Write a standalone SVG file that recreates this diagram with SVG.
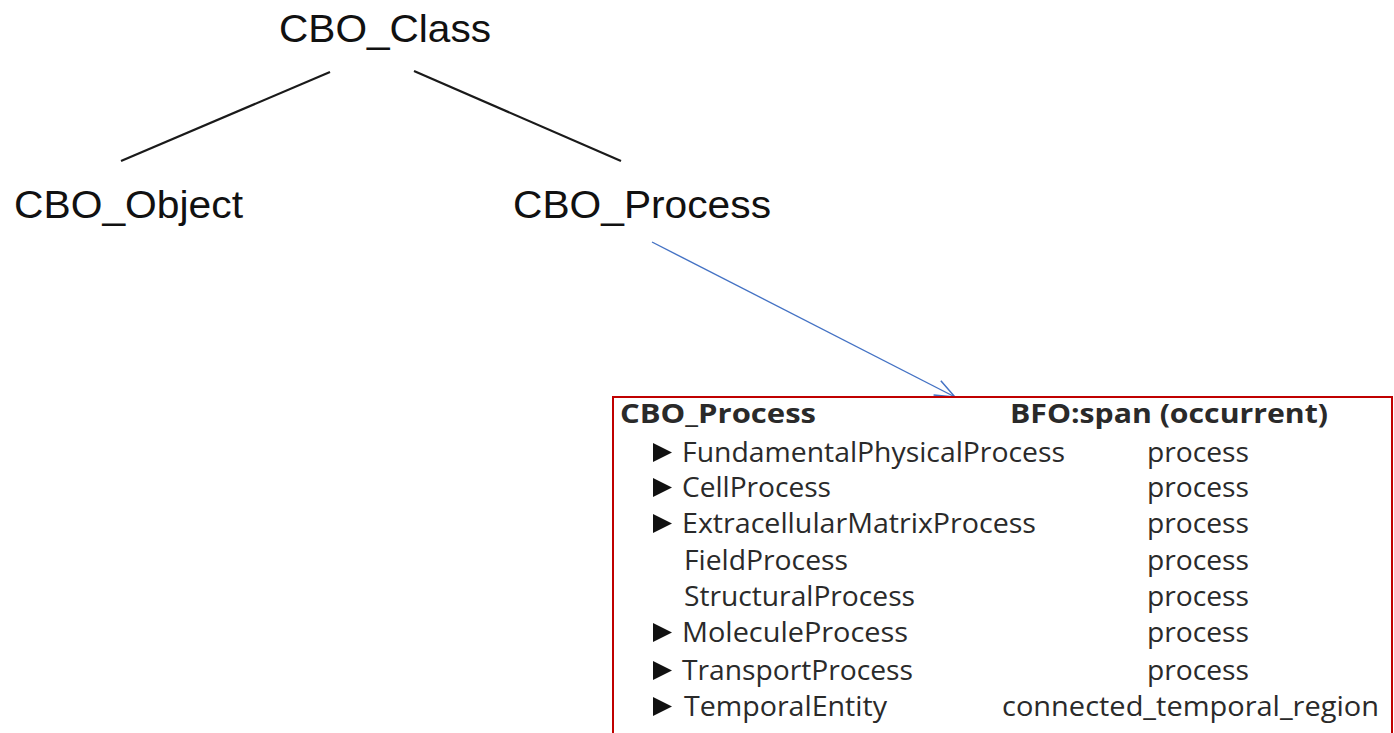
<svg xmlns="http://www.w3.org/2000/svg" width="1394" height="733" viewBox="0 0 1394 733">
  <style>
    .node { font-family: "Liberation Sans", Arial, sans-serif; font-size: 39px; fill: #111; }
    .tbl { font-family: "Open Sans", "Noto Sans", sans-serif; font-size: 27px; fill: #2a2a2a; }
    .hdr { font-weight: bold; }
    .edge { stroke: #1a1a1a; stroke-width: 2.2; fill: none; }
    .link { stroke: #4472c4; stroke-width: 1.4; fill: none; }
    .tri { fill: #111; }
  </style>
  <defs>
    <marker id="openArrow" markerWidth="24" markerHeight="20" refX="22" refY="10" orient="auto" markerUnits="userSpaceOnUse">
      <path d="M2,2 L22,10 L2,18" fill="none" stroke="#4472c4" stroke-width="1.5"/>
    </marker>
  </defs>
  <rect width="1394" height="733" fill="#ffffff"/>

  <g id="connectors">
    <line class="edge" x1="330" y1="72" x2="121" y2="161"/>
    <line class="edge" x1="414" y1="71" x2="621" y2="161"/>
    <line class="link" x1="652" y1="242" x2="955" y2="397" marker-end="url(#openArrow)"/>
  </g>

  <g id="cbo-class">
    <text class="node" x="279" y="42" textLength="212" lengthAdjust="spacingAndGlyphs">CBO_Class</text>
  </g>
  <g id="cbo-object">
    <text class="node" x="14" y="218" textLength="229" lengthAdjust="spacingAndGlyphs">CBO_Object</text>
  </g>
  <g id="cbo-process">
    <text class="node" x="513" y="218" textLength="258" lengthAdjust="spacingAndGlyphs">CBO_Process</text>
  </g>

  <g id="process-table">
    <rect x="613" y="397" width="779" height="345" fill="#ffffff" stroke="#c00000" stroke-width="2"/>
    <text class="tbl hdr" x="620" y="423" textLength="196" lengthAdjust="spacingAndGlyphs">CBO_Process</text>
    <text class="tbl hdr" x="1010" y="423" textLength="318" lengthAdjust="spacingAndGlyphs">BFO:span (occurrent)</text>

    <polygon class="tri" points="653,443 672,452.5 653,462"/>
    <text class="tbl" x="682" y="462" textLength="383" lengthAdjust="spacingAndGlyphs">FundamentalPhysicalProcess</text>
    <text class="tbl" x="1147" y="462" textLength="102" lengthAdjust="spacingAndGlyphs">process</text>

    <polygon class="tri" points="653,478 672,487.5 653,497"/>
    <text class="tbl" x="682" y="497" textLength="149" lengthAdjust="spacingAndGlyphs">CellProcess</text>
    <text class="tbl" x="1147" y="497" textLength="102" lengthAdjust="spacingAndGlyphs">process</text>

    <polygon class="tri" points="653,514 672,523.5 653,533"/>
    <text class="tbl" x="682" y="533" textLength="354" lengthAdjust="spacingAndGlyphs">ExtracellularMatrixProcess</text>
    <text class="tbl" x="1147" y="533" textLength="102" lengthAdjust="spacingAndGlyphs">process</text>

    <text class="tbl" x="684" y="570" textLength="164" lengthAdjust="spacingAndGlyphs">FieldProcess</text>
    <text class="tbl" x="1147" y="570" textLength="102" lengthAdjust="spacingAndGlyphs">process</text>

    <text class="tbl" x="684" y="606" textLength="231" lengthAdjust="spacingAndGlyphs">StructuralProcess</text>
    <text class="tbl" x="1147" y="606" textLength="102" lengthAdjust="spacingAndGlyphs">process</text>

    <polygon class="tri" points="653,623 672,632.5 653,642"/>
    <text class="tbl" x="682" y="642" textLength="226" lengthAdjust="spacingAndGlyphs">MoleculeProcess</text>
    <text class="tbl" x="1147" y="642" textLength="102" lengthAdjust="spacingAndGlyphs">process</text>

    <polygon class="tri" points="653,661 672,670.5 653,680"/>
    <text class="tbl" x="682" y="680" textLength="231" lengthAdjust="spacingAndGlyphs">TransportProcess</text>
    <text class="tbl" x="1147" y="680" textLength="102" lengthAdjust="spacingAndGlyphs">process</text>

    <polygon class="tri" points="653,697 672,706.5 653,716"/>
    <text class="tbl" x="684" y="716" textLength="203" lengthAdjust="spacingAndGlyphs">TemporalEntity</text>
    <text class="tbl" x="1002" y="716" textLength="377" lengthAdjust="spacingAndGlyphs">connected_temporal_region</text>
  </g>
</svg>
